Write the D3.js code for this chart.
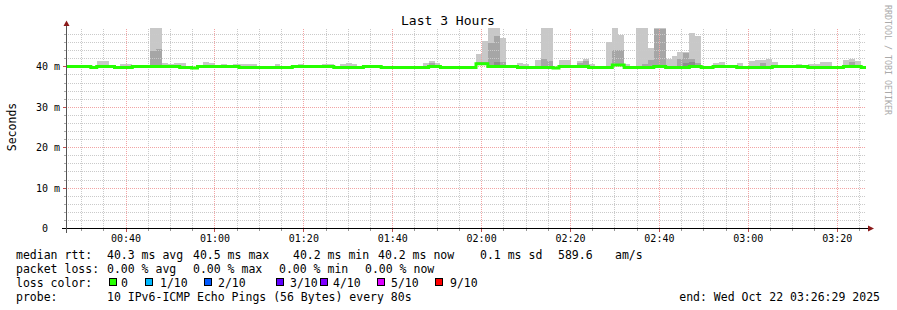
<!DOCTYPE html>
<html><head><meta charset="utf-8">
<script src="https://cdn.jsdelivr.net/npm/d3@7"></script>
<style>
body{margin:0;background:#fff;}
svg{display:block;}
text{font-family:"DejaVu Sans Mono",monospace;white-space:pre;}
</style></head><body>
<svg id="c" width="897" height="310"></svg>
<script>
// ---- data ----
const title = "Last 3 Hours";
const yAxisTitle = "Seconds";
const startTime = Date.UTC(2025, 9, 22, 0, 26, 29);
const endTime = Date.UTC(2025, 9, 22, 3, 26, 29);
const firstStep = Date.UTC(2025, 9, 22, 0, 26, 44);
const stepMs = 80000;
const median = [
 40.1,40.1,40.1,40.1,39.85,40.1,40.1,40.1,39.85,39.85,
 39.85,40.1,40.1,40.1,40.1,40.1,40.1,40.1,40.1,39.85,
 39.85,39.7,40.1,40.1,40.1,40.1,40.1,40.1,40.1,39.85,
 39.85,39.85,39.85,39.85,39.85,39.85,39.85,39.85,40.1,40.1,
 40.1,40.1,40.1,40.1,40.1,39.85,39.85,39.85,39.85,39.85,
 40.1,40.1,40.1,39.85,39.85,39.85,39.85,39.85,39.85,39.85,
 39.85,40.1,40.1,39.85,39.85,39.85,39.85,39.85,39.85,40.8,
 40.8,40.1,40.1,40.1,40.1,40.1,39.85,39.85,39.85,39.85,
 39.85,39.85,39.7,40.1,40.1,40.1,40.1,40.1,39.85,39.85,
 39.85,39.85,40.45,40.45,39.85,39.85,39.85,39.85,39.85,40.1,
 40.1,39.85,39.85,39.85,39.85,40.1,40.1,39.85,39.85,40.1,
 40.1,40.1,40.1,39.85,39.85,39.85,39.85,39.85,39.85,40.1,
 40.1,40.1,40.1,40.1,40.1,39.85,39.85,39.85,39.85,39.85,
 39.85,40.1,40.1,40.1,39.85
];
const smokeMax = [
 null,null,null,null,null,41.46,41.46,null,null,40.79,
 40.79,null,null,null,49.6,49.6,41.04,40.79,41.04,41.04,
 null,null,null,41.29,41.04,null,40.79,null,40.79,40.79,
 40.79,40.79,null,null,null,40.79,null,null,null,40.79,
 null,null,null,40.72,40.72,null,40.64,40.97,40.64,null,
 null,null,null,null,null,null,null,null,null,null,
 40.89,41.46,40.97,null,null,null,null,null,null,43.27,
 46.41,49.6,49.6,47.23,null,null,40.97,40.64,null,41.71,
 49.6,49.6,null,41.71,41.71,null,41.39,41.96,40.64,null,
 null,46.09,49.6,47.9,40.72,null,49.6,49.6,44.75,49.6,
 49.6,41.96,42.7,43.76,43.76,48.39,47.72,null,null,40.97,
 41.29,null,null,40.97,null,41.53,41.71,41.71,41.96,41.21,
 null,null,null,40.79,null,40.79,40.79,41.21,41.21,null,
 null,41.71,41.96,41.46,null
];
const smokeMid = [
 null,null,null,null,null,null,null,null,null,null,
 null,null,null,null,43.94,44.43,null,null,null,null,
 null,null,null,null,null,null,null,null,null,null,
 null,null,null,null,null,null,null,null,null,null,
 null,null,null,null,null,null,null,null,null,null,
 null,null,null,null,null,null,null,null,null,null,
 null,41.04,null,null,null,null,null,null,null,41.14,
 41.14,45.99,47.65,41.21,null,null,null,null,null,null,
 42.03,41.46,null,null,null,null,40.89,41.39,null,null,
 null,null,44.18,44.18,null,null,null,40.72,41.71,49.46,
 49.38,null,null,42.03,43.51,42.03,40.97,null,null,null,
 null,null,null,null,null,null,null,40.89,null,null,
 null,null,null,null,null,null,null,null,null,null,
 null,null,41.14,null,null
];
const smokeDark = [
 null,null,null,null,null,null,null,null,null,null,
 null,null,null,null,null,null,null,null,null,null,
 null,null,null,null,null,null,null,null,null,null,
 null,null,null,null,null,null,null,null,null,null,
 null,null,null,null,null,null,null,null,null,null,
 null,null,null,null,null,null,null,null,null,null,
 null,null,null,null,null,null,null,null,null,null,
 null,null,41.29,null,null,null,null,null,null,null,
 null,null,null,null,null,null,null,null,null,null,
 null,null,null,null,null,null,null,null,null,null,
 null,null,null,null,40.97,41.21,null,null,null,null,
 null,null,null,null,null,null,null,null,null,null,
 null,null,null,null,null,null,null,null,null,null,
 null,null,null,null,null
];
const yMajorTicks = [10, 20, 30, 40];
const yMajorLabels = ["10 m", "20 m", "30 m", "40 m"];
const yZeroLabel = "0";
const lossLabels = ["0", "1/10", "2/10", "3/10", "4/10", "5/10", "9/10"];
const lossColors = ["#26ff00", "#00b8ff", "#0059ff", "#5e00ff", "#7e00ff", "#dd00ff", "#ff0000"];
const legendRow1 = ["median rtt:", "40.3 ms avg", "40.5 ms max", "40.2 ms min", "40.2 ms now", "0.1 ms sd", "589.6", "am/s"];
const legendRow2 = ["packet loss:", "0.00 % avg", "0.00 % max", "0.00 % min", "0.00 % now"];
const legendRow3Title = "loss color:";
const legendRow4 = ["probe:", "10 IPv6-ICMP Echo Pings (56 Bytes) every 80s"];
const endLabel = "end: Wed Oct 22 03:26:29 2025";
const watermark = "RRDTOOL / TOBI OETIKER";

// ---- layout ----
const svg = d3.select("#c");
const X0 = 66, X1 = 866, Y0 = 228.5, Y1 = 28.5;
const x = d3.scaleUtc().domain([startTime, endTime]).range([X0, X1]);
const y = d3.scaleLinear().domain([0, 49.5]).range([Y0, Y1]);
const snap = v => Math.floor(v) + 0.5;

svg.append("rect").attr("width", 897).attr("height", 310).attr("fill", "#fff");
svg.append("defs").append("clipPath").attr("id", "plot")
  .append("rect").attr("x", X0).attr("y", 28).attr("width", X1 - X0).attr("height", Y0 - 28);

const steps = median.map((m, i) => ({
  t0: firstStep + i * stepMs,
  t1: Math.min(firstStep + (i + 1) * stepMs, endTime),
  med: m, max: smokeMax[i], mid: smokeMid[i], dark: smokeDark[i]
}));

const plot = svg.append("g").attr("clip-path", "url(#plot)");
function smoke(key, color) {
  plot.append("g").attr("shape-rendering", "crispEdges").selectAll("rect")
    .data(steps.filter(d => d[key] != null)).join("rect")
    .attr("x", d => x(d.t0)).attr("width", d => x(d.t1) - x(d.t0))
    .attr("y", d => y(d[key])).attr("height", d => y(d.med) - y(d[key]))
    .attr("fill", color);
}
smoke("max", "#c8c8c8");
smoke("mid", "#a6a6a6");
smoke("dark", "#8c8c8c");

// grid
const gridMinor = "#cacaca", gridMajor = "#f2a4a4";
const grid = svg.append("g").attr("shape-rendering", "crispEdges");
const minorY = y.ticks(25).filter(v => v > 0 && v % 10 !== 0);
grid.selectAll(".hy").data(minorY).join("line")
  .attr("x1", X0).attr("x2", X1).attr("y1", d => snap(y(d))).attr("y2", d => snap(y(d)))
  .attr("stroke", gridMinor).attr("stroke-dasharray", "1,1");
grid.selectAll(".hyt").data(minorY).join("line")
  .attr("x1", X0 - 2).attr("x2", X0).attr("y1", d => snap(y(d))).attr("y2", d => snap(y(d)))
  .attr("stroke", "#aaa");
const majorT = d3.utcMinute.every(20).range(startTime, endTime);
const minorT = d3.utcMinute.every(5).range(startTime, endTime).filter(t => t.getUTCMinutes() % 20 !== 0);
grid.selectAll(".vx").data(minorT).join("line")
  .attr("x1", d => snap(x(d))).attr("x2", d => snap(x(d))).attr("y1", Y1).attr("y2", Y0)
  .attr("stroke", gridMinor).attr("stroke-dasharray", "1,1");
grid.selectAll(".vxt").data(minorT).join("line")
  .attr("x1", d => snap(x(d))).attr("x2", d => snap(x(d))).attr("y1", Y0).attr("y2", Y0 + 2)
  .attr("stroke", "#999");
grid.selectAll(".my").data(yMajorTicks).join("line")
  .attr("x1", X0).attr("x2", X1).attr("y1", d => snap(y(d))).attr("y2", d => snap(y(d)))
  .attr("stroke", gridMajor).attr("stroke-dasharray", "1,1");
grid.selectAll(".myt").data(yMajorTicks).join("line")
  .attr("x1", X0 - 3).attr("x2", X0).attr("y1", d => snap(y(d))).attr("y2", d => snap(y(d)))
  .attr("stroke", "#c05050");
grid.selectAll(".mx").data(majorT).join("line")
  .attr("x1", d => snap(x(d))).attr("x2", d => snap(x(d))).attr("y1", Y1).attr("y2", Y0)
  .attr("stroke", gridMajor).attr("stroke-dasharray", "1,1");
grid.selectAll(".mxt").data(majorT).join("line")
  .attr("x1", d => snap(x(d))).attr("x2", d => snap(x(d))).attr("y1", Y0).attr("y2", Y0 + 3)
  .attr("stroke", "#c05050");

// median line (drawn above grid)
const linePts = [{t: startTime, v: median[0]}]
  .concat(steps.map(d => ({t: d.t0, v: d.med})))
  .concat([{t: endTime, v: median[median.length - 1]}]);
svg.append("g").attr("clip-path", "url(#plot)").append("path").datum(linePts)
  .attr("d", d3.line().x(d => x(d.t)).y(d => y(d.v)).curve(d3.curveStepAfter))
  .attr("fill", "none").attr("stroke", lossColors[0]).attr("stroke-width", 3);

// axes
svg.append("line").attr("x1", 62).attr("x2", 868).attr("y1", Y0).attr("y2", Y0)
  .attr("stroke", "#000").attr("shape-rendering", "crispEdges");
svg.append("line").attr("x1", X0 + 0.5).attr("x2", X0 + 0.5).attr("y1", Y0 + 4).attr("y2", 24)
  .attr("stroke", "#555").attr("shape-rendering", "crispEdges");
svg.append("path").attr("d", `M${X0 + 0.5},20.5 L${X0 + 3.5},26 L${X0 - 2.5},26 Z`).attr("fill", "#8b1a1a");
svg.append("path").attr("d", `M874,${Y0} L868,${Y0 - 3} L868,${Y0 + 3} Z`).attr("fill", "#8b1a1a");

// axis labels
svg.append("g").selectAll("text").data(majorT).join("text")
  .attr("x", d => x(d)).attr("y", 242).attr("text-anchor", "middle")
  .attr("font-size", 10).attr("fill", "#000").text(d3.utcFormat("%H:%M"));
svg.append("g").selectAll("text").data(yMajorTicks).join("text")
  .attr("x", 60).attr("y", d => snap(y(d)) + 3.8).attr("text-anchor", "end")
  .attr("font-size", 10).attr("fill", "#000").text((d, i) => yMajorLabels[i]);
svg.append("text").attr("x", 48).attr("y", Y0 + 3.8).attr("text-anchor", "end")
  .attr("font-size", 10).attr("fill", "#000").text(yZeroLabel);

svg.append("text").attr("x", 448).attr("y", 24.5).attr("text-anchor", "middle")
  .attr("font-size", 13).attr("fill", "#000").text(title);
svg.append("text").attr("transform", "translate(16,127) rotate(-90)").attr("text-anchor", "middle")
  .attr("font-size", 11.5).attr("fill", "#000").text(yAxisTitle);
svg.append("text").attr("transform", "translate(885,5) rotate(90)")
  .attr("font-size", 8.3).attr("fill", "#aaa").text(watermark);

// legend
const L = svg.append("g").attr("font-size", 11.5).attr("fill", "#000");
const row1X = [16, 107, 193, 293, 378, 480, 558, 615];
legendRow1.forEach((s, i) => L.append("text").attr("x", row1X[i]).attr("y", 259).text(s));
const row2X = [16, 107, 193, 279, 365];
legendRow2.forEach((s, i) => L.append("text").attr("x", row2X[i]).attr("y", 273).text(s));
L.append("text").attr("x", 16).attr("y", 287).text(legendRow3Title);
const boxX = [109, 145, 204, 276, 320, 377, 435];
const lblX = [121, 160, 218, 290, 333, 391, 450];
lossLabels.forEach((s, i) => {
  L.append("rect").attr("x", boxX[i] + 0.5).attr("y", 278.5).attr("width", 7).attr("height", 7)
    .attr("fill", lossColors[i]).attr("stroke", "#000").attr("shape-rendering", "crispEdges");
  L.append("text").attr("x", lblX[i]).attr("y", 287).text(s);
});
const row4X = [16, 107];
legendRow4.forEach((s, i) => L.append("text").attr("x", row4X[i]).attr("y", 301).text(s));
L.append("text").attr("x", 880).attr("y", 301).attr("text-anchor", "end").text(endLabel);
</script>
</body></html>
